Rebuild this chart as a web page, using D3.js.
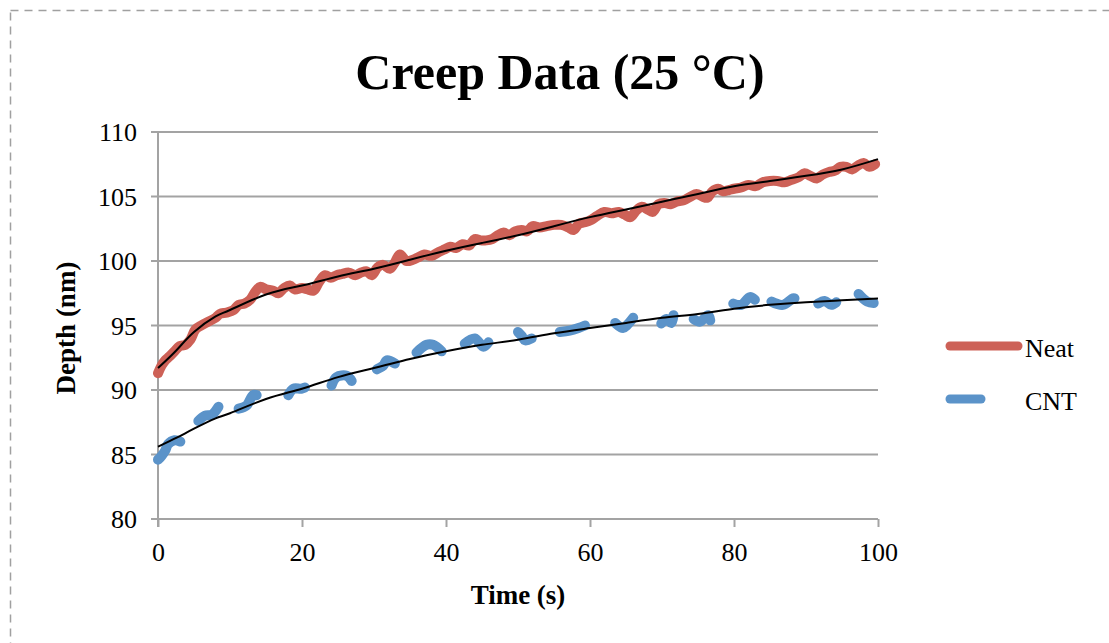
<!DOCTYPE html>
<html>
<head>
<meta charset="utf-8">
<script src="https://cdn.jsdelivr.net/npm/d3@7/dist/d3.min.js"></script>
<style>
  html, body { margin: 0; padding: 0; background: #fff; }
  svg { display: block; }
</style>
</head>
<body>
<svg id="chart" width="1109" height="643"></svg>
<script>
// ---------- data ----------
const title = "Creep Data (25 °C)";
const xLabel = "Time (s)";
const yLabel = "Depth (nm)";
const xTicks = [0, 20, 40, 60, 80, 100];
const yTicks = [80, 85, 90, 95, 100, 105, 110];
const seriesNames = ["Neat", "CNT"];

const neatTime = [0, 0.5, 1, 1.6, 2.3, 3, 3.8, 4.5, 5.2, 6, 7, 8, 8.6, 9.5, 10.5, 11.2, 12, 12.8, 13.5, 14.2,
  15, 16, 16.7, 17.5, 18.3, 19, 20, 20.8, 21.6, 22.4, 23.2, 24, 24.8, 25.6, 26.5, 27.4, 28.2, 29, 29.7,
  30.5, 31.3, 32.2, 32.8, 33.6, 34.5, 35.4, 36.2, 37, 38, 39, 39.8, 40.6, 41.4, 42.3, 43.2, 44, 44.8,
  45.6, 46.4, 47.2, 48, 48.8, 49.6, 50.5, 51.3, 52, 53, 54, 55, 56, 57, 57.7, 58.5, 59.3, 60.2, 61, 62,
  63, 64, 64.8, 65.6, 66.4, 67.2, 68, 68.7, 69.5, 70.3, 71.2, 72, 73, 74, 74.8, 75.6, 76.3, 77, 77.8,
  78.5, 79.3, 80, 81, 82, 83, 84, 85, 86, 87, 88, 89, 89.8, 90.6, 91.5, 92.3, 93.2, 94, 94.8, 95.6,
  96.4, 97.2, 98, 98.8, 99.6];
const neatDepth = [91.3, 91.9, 92.3, 92.6, 93.0, 93.4, 93.5, 93.9, 94.7, 95.0, 95.3, 95.6, 95.9, 96.0, 96.2, 96.6, 96.7, 97.0, 97.6, 98.0,
  97.8, 97.7, 97.5, 97.9, 98.1, 97.8, 97.9, 97.8, 97.7, 98.4, 98.9, 98.7, 98.9, 99.0, 99.1, 98.9, 99.1, 99.2, 98.9,
  99.5, 99.7, 99.4, 99.8, 100.5, 100.0, 100.1, 100.3, 100.5, 100.4, 100.7, 100.9, 101.1, 101.0, 101.3, 101.2, 101.7, 101.6,
  101.6, 101.7, 102.0, 102.2, 102.0, 102.3, 102.4, 102.3, 102.7, 102.6, 102.7, 102.8, 102.8, 102.6, 102.4, 102.9, 103.0, 103.2, 103.5, 103.8,
  103.7, 103.8, 103.6, 103.4, 103.9, 104.2, 104.0, 103.8, 104.4, 104.5, 104.4, 104.6, 104.7, 105.0, 105.2, 105.0, 104.9, 105.4, 105.6,
  105.4, 105.5, 105.6, 105.7, 105.9, 105.8, 106.1, 106.2, 106.2, 106.1, 106.3, 106.5, 106.8, 106.6, 106.4, 106.7, 106.9, 107.0, 107.3, 107.3,
  107.1, 107.4, 107.6, 107.3, 107.5];

// CNT has gaps (null = no data)
const cntTime = [0, 0.5, 1, 1.4, 2.3, 3.1, null,
  5.6, 6.5, 7.5, 8.4, null,
  11.2, 12.3, 13.2, 13.7, null,
  18.1, 18.8, 19.9, 20.4, null,
  24.1, 24.8, 26.2, 26.9, null,
  30.4, 31.3, 31.8, 32.9, null,
  35.9, 37.3, 38.2, 39.4, null,
  42.6, 44.0, 45.2, 45.9, null,
  50.0, 50.5, 51.0, 51.9, null,
  55.8, 57.2, 58.4, 59.3, null,
  63.5, 64.6, 65.1, 66.0, null,
  69.9, 70.6, 71.3, 71.6, null,
  74.4, 75.3, 76.4, 76.7, null,
  79.9, 81.0, 82.2, 82.9, null,
  85.2, 86.8, 88.2, 88.4, null,
  91.7, 92.6, 93.5, 94.2, null,
  97.3, 98.5, 99.4];
const cntDepth = [84.6, 84.9, 85.3, 85.8, 86.1, 86.0, null,
  87.6, 88.0, 88.1, 88.7, null,
  88.55, 88.8, 89.6, 89.6, null,
  89.6, 90.1, 90.1, 90.2, null,
  90.35, 91.0, 91.1, 90.7, null,
  91.6, 91.9, 92.3, 92.05, null,
  92.9, 93.5, 93.5, 93.0, null,
  93.6, 94.0, 93.35, 93.7, null,
  94.5, 94.2, 93.85, 94.0, null,
  94.5, 94.6, 94.8, 95.0, null,
  95.2, 94.8, 95.0, 95.6, null,
  95.15, 95.5, 95.2, 95.8, null,
  95.5, 95.3, 95.8, 95.4, null,
  96.7, 96.6, 97.2, 97.0, null,
  96.85, 96.6, 97.1, 97.1, null,
  96.7, 96.9, 96.6, 96.8, null,
  97.45, 96.85, 96.75];

// trendlines
const trendTime = [0, 2.6, 5, 8, 10, 15, 20, 25, 30, 35, 40, 45, 50, 55, 60, 65, 70, 75, 80, 85, 90, 95, 100];
const neatTrend = [91.7, 93.1, 94.5, 95.7, 96.2, 97.4, 98.1, 98.8, 99.4, 100.1, 100.8, 101.4, 102.0, 102.7, 103.4, 104.0, 104.6, 105.2, 105.8, 106.2, 106.6, 107.1, 107.9];
const cntTrend  = [85.6, 86.3, 87.0, 87.8, 88.2, 89.3, 90.1, 91.0, 91.7, 92.4, 93.0, 93.5, 93.9, 94.4, 94.8, 95.2, 95.6, 95.9, 96.3, 96.6, 96.8, 96.95, 97.1];

// ---------- drawing ----------
const svg = d3.select("#chart");
const SERIF = "'Liberation Serif', 'Times New Roman', serif";
const red = "#CD6157", blue = "#5B93C9", grid = "#A3A3A3";

// dashed outer frame
svg.append("rect").attr("x", 10.5).attr("y", 10.5).attr("width", 1200).attr("height", 800)
  .attr("fill", "none").attr("stroke", "#A0A0A0").attr("stroke-width", 1.5)
  .attr("stroke-dasharray", "8,6");

const x = d3.scaleLinear().domain([0, 100]).range([158, 878]);
const y = d3.scaleLinear().domain([80, 110]).range([519, 132]);

// gridlines
svg.append("g").selectAll("line").data(yTicks).join("line")
  .attr("x1", 151).attr("x2", 878)
  .attr("y1", d => y(d)).attr("y2", d => y(d))
  .attr("stroke", grid).attr("stroke-width", 2);

// y axis
const yAxis = svg.append("g").attr("transform", "translate(158,0)")
  .call(d3.axisLeft(y).tickValues(yTicks).tickSize(0).tickPadding(21).tickFormat(d3.format("d")));
yAxis.select(".domain").attr("stroke", grid).attr("stroke-width", 2).attr("d", `M0,${y(110)}V${y(80) + 8}`);
yAxis.selectAll("text").attr("font-family", SERIF).attr("font-size", 26).attr("fill", "#000").attr("dy", "0.34em");

// x axis
const xAxis = svg.append("g").attr("transform", `translate(0,${y(80)})`)
  .call(d3.axisBottom(x).tickValues(xTicks).tickSize(8).tickPadding(16).tickFormat(d3.format("d")));
xAxis.select(".domain").attr("stroke", grid).attr("stroke-width", 2).attr("d", `M${x(0) - 7},0H${x(100)}`);
xAxis.selectAll(".tick line").attr("stroke", grid).attr("stroke-width", 2);
xAxis.selectAll("text").attr("font-family", SERIF).attr("font-size", 26).attr("fill", "#000");

// series
const lineFn = d3.line().defined(d => d[1] != null).x(d => x(d[0])).y(d => y(d[1])).curve(d3.curveCatmullRom);
const neatPts = neatTime.map((t, i) => [t, neatDepth[i]]);
const cntPts = cntTime.map((t, i) => [t, cntDepth[i]]);

svg.append("path").attr("d", lineFn(neatPts)).attr("fill", "none").attr("stroke", red)
  .attr("stroke-width", 10).attr("stroke-linejoin", "round").attr("stroke-linecap", "round");
svg.append("path").attr("d", lineFn(cntPts)).attr("fill", "none").attr("stroke", blue)
  .attr("stroke-width", 10).attr("stroke-linejoin", "round").attr("stroke-linecap", "round");

// trendlines
const trendFn = d3.line().x(d => x(d[0])).y(d => y(d[1])).curve(d3.curveNatural);
svg.append("path").attr("d", trendFn(trendTime.map((t, i) => [t, neatTrend[i]])))
  .attr("fill", "none").attr("stroke", "#000").attr("stroke-width", 2);
svg.append("path").attr("d", trendFn(trendTime.map((t, i) => [t, cntTrend[i]])))
  .attr("fill", "none").attr("stroke", "#000").attr("stroke-width", 2);

// title
svg.append("text").attr("x", 560).attr("y", 89).attr("text-anchor", "middle")
  .attr("font-family", SERIF).attr("font-weight", "bold").attr("font-size", 50).text(title);

// axis titles
svg.append("text").attr("x", 518).attr("y", 604).attr("text-anchor", "middle")
  .attr("font-family", SERIF).attr("font-weight", "bold").attr("font-size", 27).text(xLabel);
svg.append("text").attr("transform", "translate(75,328) rotate(-90)").attr("text-anchor", "middle")
  .attr("font-family", SERIF).attr("font-weight", "bold").attr("font-size", 27).text(yLabel);

// legend
const legend = svg.append("g");
const legendItems = [
  { name: seriesNames[0], color: red, x1: 950, x2: 1018, y: 346 },
  { name: seriesNames[1], color: blue, x1: 950, x2: 981, y: 399 }
];
legend.selectAll("line").data(legendItems).join("line")
  .attr("x1", d => d.x1).attr("x2", d => d.x2).attr("y1", d => d.y).attr("y2", d => d.y)
  .attr("stroke", d => d.color).attr("stroke-width", 9).attr("stroke-linecap", "round");
legend.selectAll("text").data(legendItems).join("text")
  .attr("x", 1025).attr("y", d => d.y + 11)
  .attr("font-family", SERIF).attr("font-size", 26).text(d => d.name);
</script>
</body>
</html>
